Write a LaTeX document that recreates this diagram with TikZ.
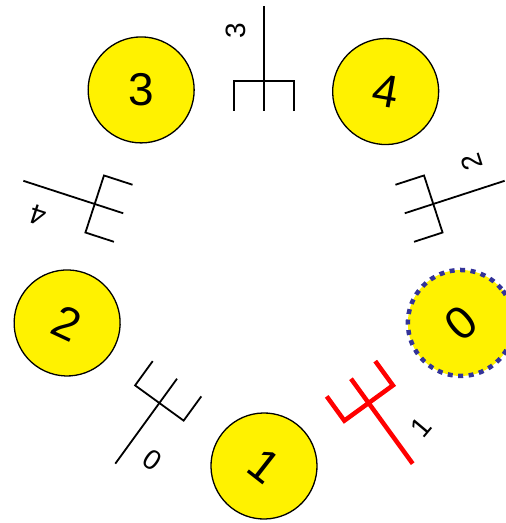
\documentclass[tikz,border=0pt]{standalone}
\usepackage{fontspec}
\setmainfont{Liberation Sans}
\definecolor{dotblue}{RGB}{51,51,153}
\tikzset{
  phil/.style={circle,draw,line width=1.3pt,fill=yellow,minimum size=106pt,inner sep=0pt,font=\fontsize{46}{46}\selectfont},
  forklabel/.style={inner sep=0pt,font=\fontsize{28}{28}\selectfont}
}
\begin{document}
\begin{tikzpicture}[x=1pt,y=1pt,line join=miter]
  \useasboundingbox (-264,-264) rectangle (242,259);
  % philosophers
  \node[phil,draw=dotblue,line width=4.5pt,dash pattern=on 5pt off 5.5pt,rotate=40] (p0) at (-18:207) {0};
  \node[phil,rotate=-38] (p1) at (-90:207) {1};
  \node[phil,rotate=-25] (p2) at (198:207) {2};
  \node[phil] (p3) at (126:209) {3};
  \node[phil,rotate=-10] (p4) at (54:207) {4};
  % forks
  \foreach \a/\n/\r/\c/\w in {-126/0/-35/black/1.8, -54/1/50/red/4.5, 18/2/108/black/1.8, 90/3/90/black/1.8, 162/4/162/black/1.8}{
    \begin{scope}[shift={(\a:178)},rotate=\a,draw=\c,line width=\w pt]
      \draw (0,0) -- (75,0);
      \draw (-30,-30) -- (0,-30) -- (0,30) -- (-30,30);
      \draw (0,0) -- (-30,0);
      \node[forklabel,rotate=\r] (f\n) at (50,28) {\n};
    \end{scope}
  }
\end{tikzpicture}
\end{document}
